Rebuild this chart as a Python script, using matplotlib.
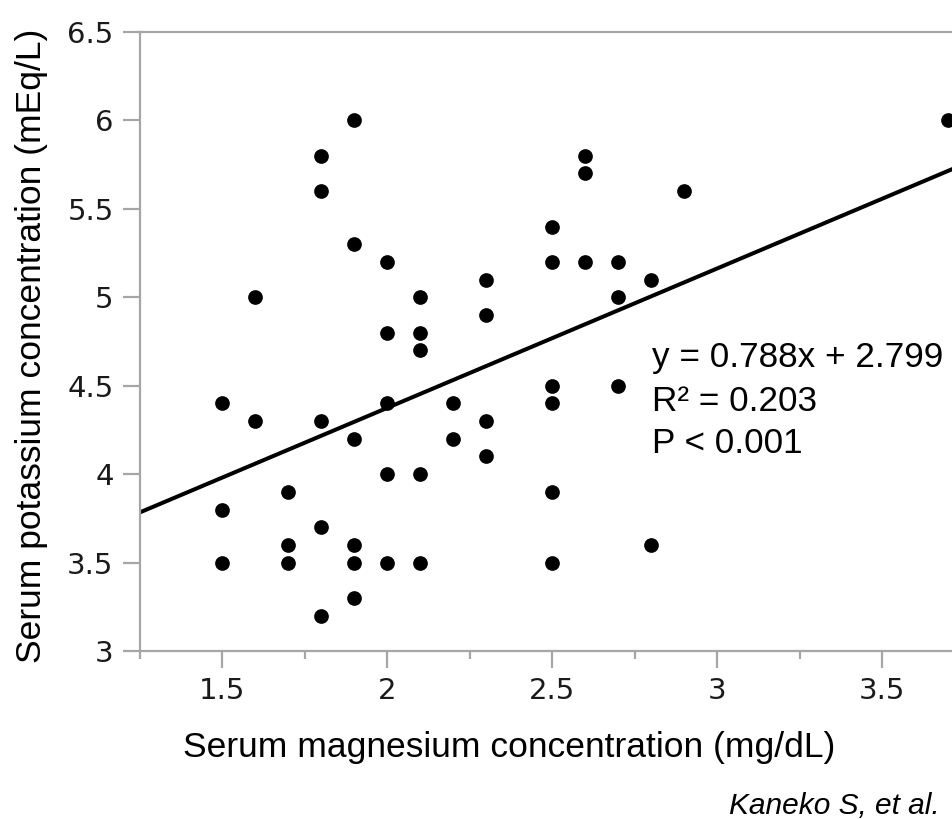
import numpy as np
import matplotlib
matplotlib.use("Agg")
from matplotlib import pyplot as plt
from matplotlib.ticker import MultipleLocator, FormatStrFormatter

# Data
mg = [1.5, 1.5, 1.5,
      1.6, 1.6,
      1.7, 1.7, 1.7,
      1.8, 1.8, 1.8, 1.8, 1.8,
      1.9, 1.9, 1.9, 1.9, 1.9, 1.9,
      2.0, 2.0, 2.0, 2.0, 2.0,
      2.1, 2.1, 2.1, 2.1, 2.1,
      2.2, 2.2,
      2.3, 2.3, 2.3, 2.3,
      2.5, 2.5, 2.5, 2.5, 2.5, 2.5,
      2.6, 2.6, 2.6,
      2.7, 2.7, 2.7,
      2.8, 2.8,
      2.9,
      3.7]
k = [4.4, 3.8, 3.5,
     5.0, 4.3,
     3.9, 3.6, 3.5,
     5.8, 5.6, 4.3, 3.7, 3.2,
     6.0, 5.3, 4.2, 3.6, 3.5, 3.3,
     5.2, 4.8, 4.4, 4.0, 3.5,
     5.0, 4.8, 4.7, 4.0, 3.5,
     4.4, 4.2,
     5.1, 4.9, 4.3, 4.1,
     5.4, 5.2, 4.5, 4.4, 3.9, 3.5,
     5.8, 5.7, 5.2,
     5.2, 5.0, 4.5,
     5.1, 3.6,
     5.6,
     6.0]
slope = 0.788
intercept = 2.799
stats_lines = ["y = 0.788x + 2.799", "R\u00b2 = 0.203", "P < 0.001"]

xlim = (1.25, 3.715)
ylim = (3.0, 6.5)

fig = plt.figure(figsize=(9.53, 8.19), dpi=100)
ax = fig.add_axes([140 / 953, 1 - 651 / 819, 1 - 140 / 953, (651 - 32) / 819])

ax.scatter(mg, k, s=112, color="black", zorder=3, clip_on=False, linewidths=0)

xs = np.array(xlim)
ax.plot(xs, slope * xs + intercept, color="black", lw=2.9, zorder=2)

ax.set_xlim(*xlim)
ax.set_ylim(*ylim)

spine_col = "#a6a6a6"
for side in ["left", "bottom", "top"]:
    ax.spines[side].set_color(spine_col)
    ax.spines[side].set_linewidth(1.6)
ax.spines["right"].set_visible(False)

ax.xaxis.set_major_locator(MultipleLocator(0.5))
ax.xaxis.set_minor_locator(MultipleLocator(0.25))
ax.yaxis.set_major_locator(MultipleLocator(0.5))
ax.xaxis.set_major_formatter(FormatStrFormatter("%g"))
ax.yaxis.set_major_formatter(FormatStrFormatter("%g"))
ax.tick_params(axis="both", which="major", direction="out", length=12, width=1.6,
               color=spine_col, labelsize=21, labelcolor="#1a1a1a", pad=7)
ax.tick_params(axis="x", which="minor", direction="out", length=6, width=1.6, color=spine_col)
for lab in ax.get_xticklabels() + ax.get_yticklabels():
    lab.set_family("DejaVu Sans")

lab_font = dict(family="Liberation Sans", fontsize=25.5, color="black")
fig.text(509 / 953, 1 - 748 / 819, "Serum magnesium concentration (mg/dL)",
         ha="center", va="center", **lab_font)
fig.text(32 / 953, 1 - 346 / 819, "Serum potassium concentration (mEq/L)",
         ha="center", va="center", rotation=90, **lab_font)

for i, line in enumerate(stats_lines):
    fig.text(652 / 953, 1 - (358 + 43 * i) / 819, line, ha="left", va="center",
             family="Liberation Sans", fontsize=25.3, color="black")

fig.text(940 / 953, 1 - 806 / 819, "Kaneko S, et al.", ha="right", va="center",
         family="Liberation Sans", style="italic", fontsize=21.5, color="black")

fig.savefig("out.png", dpi=100)
